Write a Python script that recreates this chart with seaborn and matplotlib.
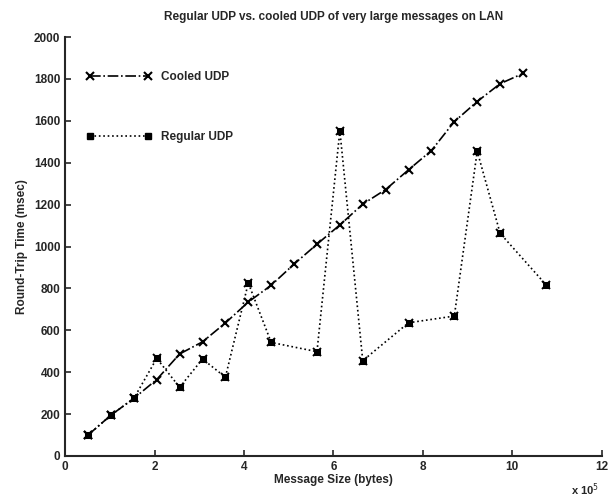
import matplotlib
matplotlib.use("Agg")
import matplotlib.pyplot as plt
import seaborn as sns
import pandas as pd
from matplotlib.lines import Line2D

# Data (message size in units of 1e5 bytes, round-trip time in msec)
cooled_size = [0.512, 1.024, 1.536, 2.048, 2.56, 3.072, 3.584, 4.096, 4.608, 5.12,
               5.632, 6.144, 6.656, 7.168, 7.68, 8.192, 8.704, 9.216, 9.728, 10.24]
cooled_rtt = [100, 195, 275, 365, 487, 545, 635, 735, 815, 916,
              1011, 1103, 1202, 1272, 1366, 1458, 1596, 1692, 1777, 1826]

regular_size = [0.512, 1.024, 1.536, 2.048, 2.56, 3.072, 3.584, 4.096, 4.608,
                5.632, 6.144, 6.656, 7.68, 8.704, 9.216, 9.728, 10.752]
regular_rtt = [100, 195, 275, 466, 328, 463, 376, 826, 542,
               498, 1553, 455, 636, 668, 1455, 1063, 818]

title = "Regular UDP vs. cooled UDP of very large messages on LAN"
xlabel = "Message Size (bytes)"
ylabel = "Round-Trip Time (msec)"
xticks = [0, 2, 4, 6, 8, 10, 12]
yticks = [0, 200, 400, 600, 800, 1000, 1200, 1400, 1600, 1800, 2000]

sns.set_style("ticks")
plt.rcParams['font.family'] = ['Liberation Sans', 'DejaVu Sans']
plt.rcParams['xtick.direction'] = 'in'
plt.rcParams['ytick.direction'] = 'in'

fig = plt.figure(figsize=(6.09, 5.0), dpi=100)
ax = fig.add_axes([0.107, 0.088, 0.881, 0.838])

cooled = pd.DataFrame({"size": cooled_size, "rtt": cooled_rtt})
regular = pd.DataFrame({"size": regular_size, "rtt": regular_rtt})

sns.lineplot(data=cooled, x="size", y="rtt", ax=ax, color="black",
             linestyle="-.", linewidth=1.2, marker="x", markersize=6,
             markeredgewidth=1.5, markeredgecolor="black", sort=False)
sns.lineplot(data=regular, x="size", y="rtt", ax=ax, color="black",
             linestyle=":", linewidth=1.2, marker="s", markersize=4.5,
             markeredgecolor="black", sort=False)
ax.plot(regular["size"], regular["rtt"], linestyle="none", marker="x",
        markersize=6, markeredgewidth=1.4, color="black")

ax.set_xlim(0, 12)
ax.set_ylim(0, 2000)
ax.set_xticks(xticks)
ax.set_yticks(yticks)
ax.tick_params(labelsize=8.5, width=1.2, length=4)
for lab in ax.get_xticklabels() + ax.get_yticklabels():
    lab.set_fontweight("bold")
sns.despine(ax=ax)
ax.spines['left'].set_linewidth(1.5)
ax.spines['bottom'].set_linewidth(1.5)

ax.set_title(title, fontsize=8.5, fontweight="bold", pad=12)
ax.set_xlabel(xlabel, fontsize=8.5, fontweight="bold", labelpad=1)
ax.set_ylabel(ylabel, fontsize=8.5, fontweight="bold", labelpad=4)
ax.text(0.995, -0.08, r"x 10$^5$", transform=ax.transAxes, fontsize=8,
        fontweight="bold", ha="right", va="center")

h1 = Line2D([], [], color="black", linestyle="-.", linewidth=1.2, marker="x",
            markersize=6, markeredgewidth=1.5)
h2 = Line2D([], [], color="black", linestyle=":", linewidth=1.2, marker="s",
            markersize=4.5)
leg = ax.legend([h1, h2], ["Cooled UDP", "Regular UDP"], loc="upper left",
                bbox_to_anchor=(0.02, 0.945), frameon=False, numpoints=2,
                handlelength=5.5, labelspacing=4.1,
                prop={"size": 8.5, "weight": "bold"})

fig.savefig("out.png", dpi=100)
